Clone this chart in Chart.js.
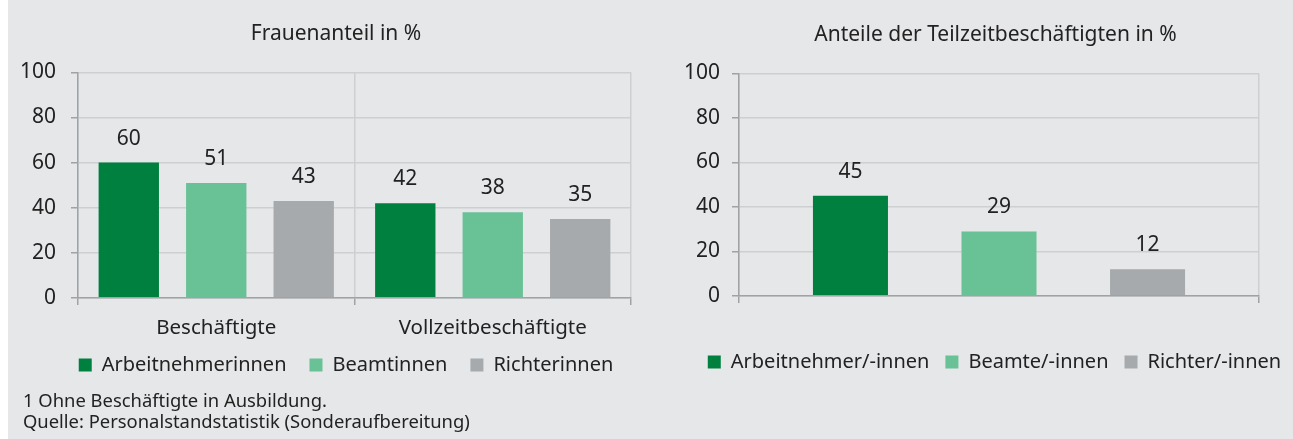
<!DOCTYPE html>
<html><head><meta charset="utf-8">
<script src="https://cdn.jsdelivr.net/npm/chart.js@4"></script>
<style>
html,body{margin:0;padding:0;background:#fff;width:1293px;height:439px;overflow:hidden;}
#page{position:absolute;left:8px;top:0;width:1285px;height:439px;background:#e6e7e9;}
canvas{position:absolute;top:0;}
.note{position:absolute;left:23px;font-family:'Noto Sans';font-size:18.4px;line-height:24px;color:#222;white-space:nowrap;}
</style></head><body>
<div id="page"></div>
<canvas id="left" width="664" height="397" style="left:0;width:664px;height:397px"></canvas>
<canvas id="right" width="633" height="382" style="left:660px;width:633px;height:382px"></canvas>
<div class="note" style="top:388px">1 Ohne Beschäftigte in Ausbildung.</div>
<div class="note" style="top:409px">Quelle: Personalstandstatistik (Sonderaufbereitung)</div>
<script>
// ---- data ----
const leftTitle = 'Frauenanteil in %';
const leftCategories = ['Beschäftigte', 'Vollzeitbeschäftigte'];
const leftSeriesNames = ['Arbeitnehmerinnen', 'Beamtinnen', 'Richterinnen'];
const arbeitnehmerinnen = [60, 42];
const beamtinnen = [51, 38];
const richterinnen = [43, 35];

const rightTitle = 'Anteile der Teilzeitbeschäftigten in %';
const rightCategories = [''];
const rightSeriesNames = ['Arbeitnehmer/-innen', 'Beamte/-innen', 'Richter/-innen'];
const teilzeitArbeitnehmer = [45];
const teilzeitBeamte = [29];
const teilzeitRichter = [12];

const yTickValues = [0, 20, 40, 60, 80, 100];

// ---- style ----
const F = 'Noto Sans';
const TXT = '#222222';
const GRID = '#cdcfd1';
const AXIS = '#9fa3a6';
const COLORS = ['#00803f', '#69c196', '#a6aaac'];

const valueLabels = {
  id: 'valueLabels',
  afterDatasetsDraw(chart, args, opts) {
    const ctx = chart.ctx;
    ctx.save();
    ctx.font = opts.font;
    ctx.fillStyle = opts.color;
    ctx.textAlign = 'center';
    ctx.textBaseline = 'middle';
    chart.data.datasets.forEach((ds, i) => {
      chart.getDatasetMeta(i).data.forEach((el, j) => {
        ctx.fillText(String(ds.data[j]), el.x, el.y - opts.offset);
      });
    });
    ctx.restore();
  }
};
const shiftBoxes = {
  id: 'shiftBoxes',
  afterLayout(chart, args, opts) {
    const t = chart.titleBlock, l = chart.legend;
    if (t && opts.title) { t.left += opts.title; t.right += opts.title; }
    if (l && opts.legend) { l.left += opts.legend; l.right += opts.legend; }
    if (l && opts.legendY) { l.top += opts.legendY; l.bottom += opts.legendY; }
  }
};

function makeChart(id, p) {
  const datasets = p.names.map((n, i) => ({
    label: n, data: p.series[i], backgroundColor: COLORS[i], borderWidth: 0,
    categoryPercentage: p.cp, barPercentage: p.bp, yAxisID: 'y'
  }));
  return new Chart(document.getElementById(id), {
    type: 'bar',
    data: { labels: p.categories, datasets },
    plugins: [valueLabels, shiftBoxes],
    options: {
      responsive: false, animation: false, devicePixelRatio: 1,
      layout: { padding: { left: p.padLeft, right: 0, top: 0, bottom: 0 } },
      plugins: {
        title: { display: true, text: p.title, color: TXT, font: { family: F, size: 21, weight: 'normal' }, padding: p.titlePad },
        legend: { position: 'bottom', labels: { boxWidth: 13, boxHeight: 13, padding: p.legendPad, color: TXT, font: { family: F, size: 20 } } },
        tooltip: { enabled: false },
        valueLabels: { font: "21px '" + F + "'", color: TXT, offset: 24 },
        shiftBoxes: p.shift
      },
      scales: {
        x: {
          grid: { color: GRID, lineWidth: 1.5, tickLength: 7, tickColor: AXIS, offset: true },
          border: { color: AXIS, width: 1.5, z: 1 },
          ticks: { color: TXT, font: { family: F, size: 20.5 }, padding: 11 },
          afterFit(s) { s.height = p.xHeight; }
        },
        y: {
          min: 0, max: 100,
          afterBuildTicks(s) { s.ticks = yTickValues.map(v => ({ value: v })); },
          ticks: { color: TXT, font: { family: F, size: 21 }, padding: p.yPad },
          grid: { color: GRID, lineWidth: 1.5, tickLength: 7, tickColor: AXIS },
          border: { color: AXIS, width: 1.5 },
          afterFit(s) { s.width = p.yWidth; }
        },
        yr: {
          position: 'right', display: true,
          grid: { display: false, drawTicks: false }, border: { display: false },
          ticks: { display: false },
          afterFit(s) { s.width = p.rightGap; }
        }
      }
    }
  });
}

makeChart('left', {
  title: leftTitle, categories: leftCategories, names: leftSeriesNames,
  series: [arbeitnehmerinnen, beamtinnen, richterinnen],
  cp: 0.949, bp: 0.69, padLeft: 8, yWidth: 70, rightGap: 33, yPad: 15,
  titlePad: { top: 21.7, bottom: 25.4 }, legendPad: 23, xHeight: 46,
  shift: { legend: 10, legendY: -12 }
});
makeChart('right', {
  title: rightTitle, categories: rightCategories, names: rightSeriesNames,
  series: [teilzeitArbeitnehmer, teilzeitBeamte, teilzeitRichter],
  cp: 0.857, bp: 0.505, padLeft: 0, yWidth: 79, rightGap: 34, yPad: 12,
  titlePad: { top: 22.6, bottom: 25.5 }, legendPad: 16, xHeight: 40,
  shift: { title: 19, legend: 18 }
});
</script>
</body></html>
